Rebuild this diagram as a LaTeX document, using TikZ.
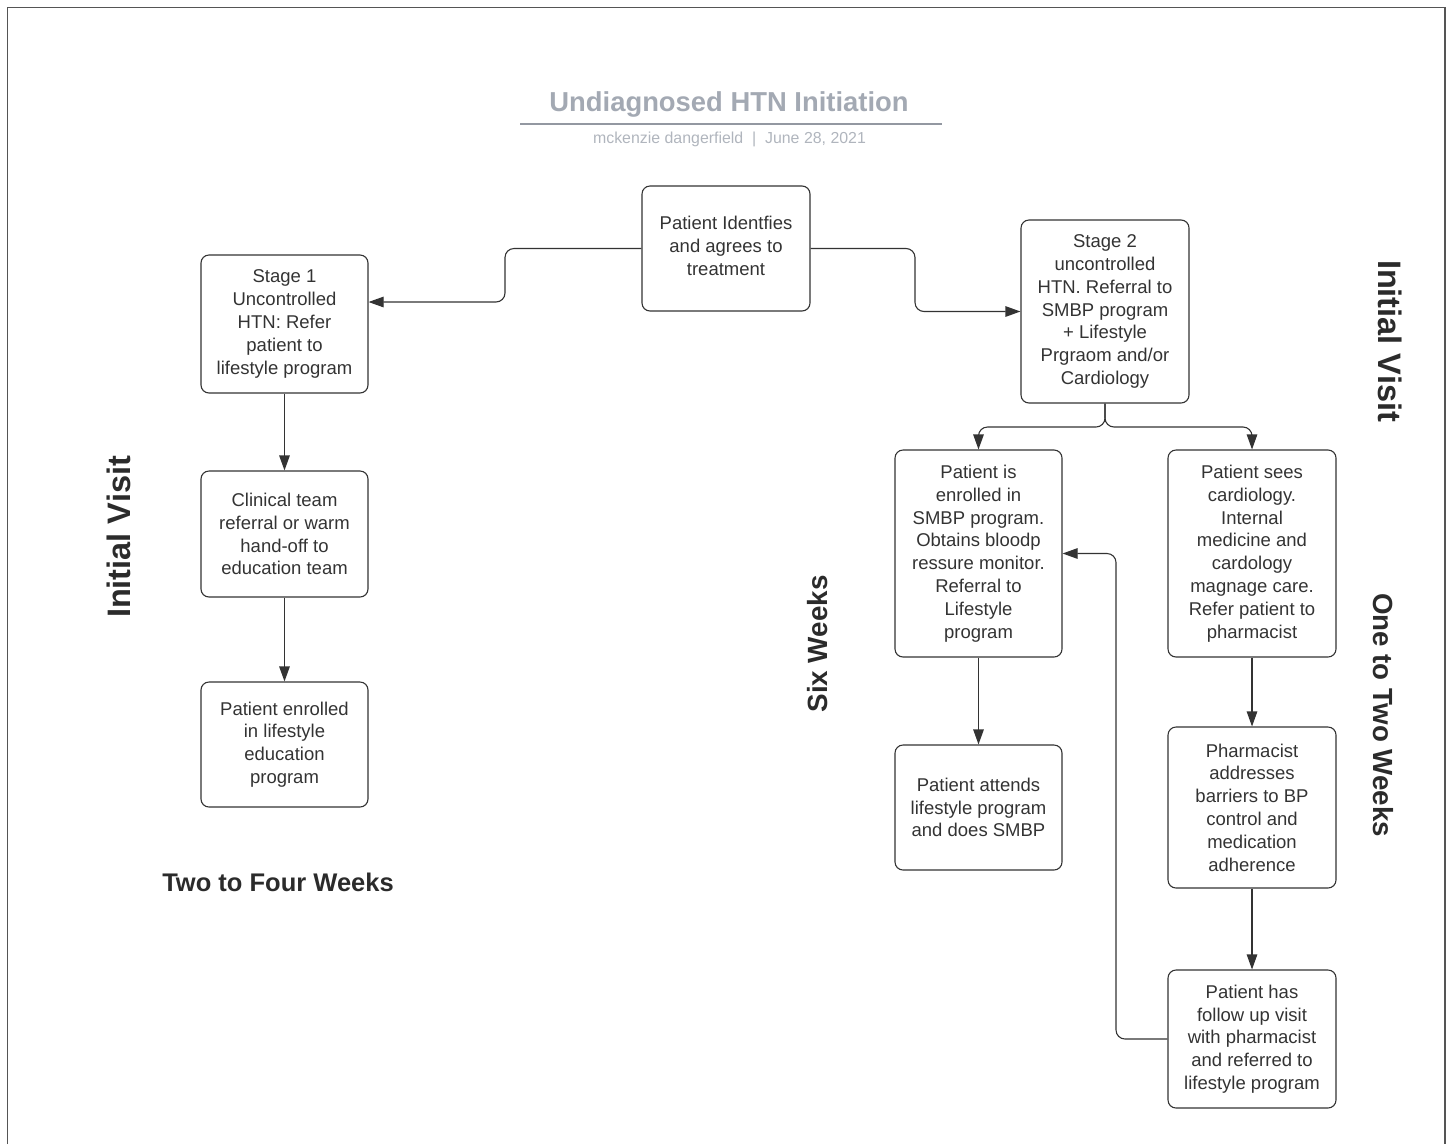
\documentclass[tikz,border=0pt]{standalone}
\usepackage{fontspec}
\setmainfont{Liberation Sans}
\usetikzlibrary{arrows.meta}
\definecolor{titlegray}{HTML}{A3A9B3}
\definecolor{subgray}{HTML}{B0B5BD}
\definecolor{ink}{HTML}{333333}
\definecolor{framegray}{HTML}{555555}
\tikzset{
  box/.style={draw=ink, line width=1.1pt, rounded corners=8pt, align=center, text=ink, inner sep=2pt,
    font=\fontsize{18.5}{22.8}\selectfont},
  conn/.style={draw=ink, line width=1.1pt, rounded corners=9pt, -{Triangle[length=15pt,width=10.5pt]}},
  phase/.style={text=ink!85!black, font=\bfseries\fontsize{26}{30}\selectfont},
  phasebig/.style={text=ink!85!black, font=\bfseries\fontsize{32.5}{36}\selectfont}
}
\begin{document}
\begin{tikzpicture}[x=1pt,y=-1pt]
\useasboundingbox (0,0) rectangle (1450,1144);
\draw[framegray, line width=1.5pt] (7.5,1144) -- (7.5,7.5) -- (1445,7.5) -- (1445,1144);

% title
\node[text=titlegray, font=\bfseries\fontsize{27.4}{30}\selectfont] (title) at (729,104.5) {Undiagnosed HTN Initiation};
\coordinate (ul1) at (520,124);
\coordinate (ul2) at (942,124);
\draw[titlegray!90!black, line width=2pt] (ul1) -- (ul2);
\node[text=subgray, font=\fontsize{15.9}{18}\selectfont] (sub) at (729.5,139.5) {mckenzie dangerfield\ \ |\ \ June 28, 2021};

% boxes
\node[box, minimum width=168pt, minimum height=125pt] (top) at (726,248.5) {Patient Identfies\\and agrees to\\treatment\\[-17pt]\mbox{}};
\node[box, minimum width=167pt, minimum height=138pt] (s1) at (284.5,324) {Stage 1\\Uncontrolled\\HTN: Refer\\patient to\\lifestyle program};
\node[box, minimum width=168pt, minimum height=183pt] (s2) at (1105,311.5) {Stage 2\\uncontrolled\\HTN. Referral to\\SMBP program\\+ Lifestyle\\Prgraom and/or\\Cardiology};
\node[box, minimum width=167pt, minimum height=126pt] (clin) at (284.5,534) {Clinical team\\referral or warm\\hand-off to\\education team};
\node[box, minimum width=167pt, minimum height=125pt] (enr) at (284.5,744.5) {Patient enrolled\\in lifestyle\\education\\program};
\node[box, minimum width=167pt, minimum height=207pt] (smbp) at (978.5,553.5) {Patient is\\enrolled in\\SMBP program.\\Obtains bloodp\\ressure monitor.\\Referral to\\Lifestyle\\program};
\node[box, minimum width=168pt, minimum height=207pt] (card) at (1252,553.5) {Patient sees\\cardiology.\\Internal\\medicine and\\cardology\\magnage care.\\Refer patient to\\pharmacist};
\node[box, minimum width=167pt, minimum height=125pt] (att) at (978.5,807.5) {Patient attends\\lifestyle program\\and does SMBP};
\node[box, minimum width=168pt, minimum height=161pt] (pharm) at (1252,807.5) {Pharmacist\\addresses\\barriers to BP\\control and\\medication\\adherence};
\node[box, minimum width=168pt, minimum height=138pt] (fol) at (1252,1039) {Patient has\\follow up visit\\with pharmacist\\and referred to\\lifestyle program};

% phase labels
\node[phasebig, rotate=90] (iv1) at (119,537) {Initial Visit};
\node[phasebig, rotate=-90] (iv2) at (1390,341) {Initial Visit};
\node[phase, font=\bfseries\fontsize{27.8}{30}\selectfont, rotate=90] (six) at (818,644) {Six Weeks};
\node[phase, font=\bfseries\fontsize{27.7}{30}\selectfont, rotate=-90] (one) at (1383,715) {One to Two Weeks};
\node[phase, font=\bfseries\fontsize{25.5}{30}\selectfont] (two) at (278,882) {Two to Four Weeks};

% connectors
\draw[conn] (top.west) -- (505,248.5) -- (505,302) -- ([yshift=22pt]s1.east);
\draw[conn] (top.east) -- (915,248.5) -- (915,311.5) -- (s2.west);
\draw[conn] (s2.south) -- (1105,427) -- (978.5,427) -- (smbp.north);
\draw[conn] (s2.south) -- (1105,427) -- (1252,427) -- (card.north);
\draw[conn] (s1.south) -- (clin.north);
\draw[conn] (clin.south) -- (enr.north);
\draw[conn] (smbp.south) -- (att.north);
\draw[conn] (card.south) -- (pharm.north);
\draw[conn] (pharm.south) -- (fol.north);
\draw[conn] (fol.west) -- (1116,1039) -- (1116,553.5) -- (smbp.east);
\end{tikzpicture}
\end{document}
